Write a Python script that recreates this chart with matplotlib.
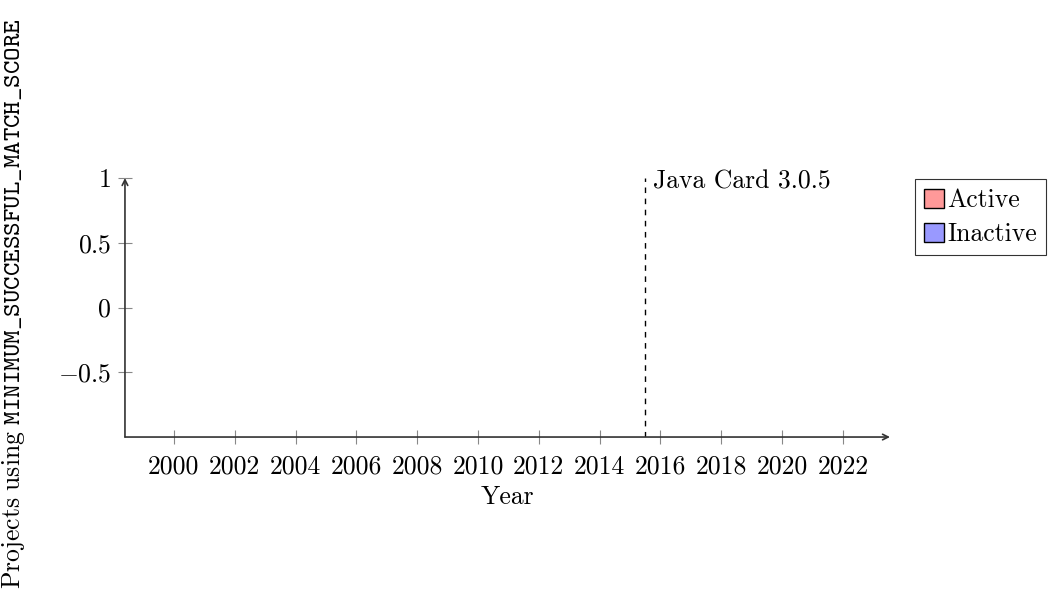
import matplotlib.pyplot as plt
from matplotlib.patches import Patch

plt.rcParams["mathtext.fontset"] = "cm"
plt.rcParams["font.family"] = ["cmr10", "DejaVu Sans"]
plt.rcParams["axes.formatter.use_mathtext"] = True

# data (the chart has no bars, only the release marker)
years = []
active = []
inactive = []
x_ticks = [2000, 2002, 2004, 2006, 2008, 2010, 2012, 2014, 2016, 2018, 2020, 2022]
y_ticks = [1, 0.5, 0, -0.5]
y_tick_labels = ["$1$", "$0.5$", "$0$", "$-0.5$"]
release_year = 2015.5
release_label = "Java Card 3.0.5"
series_names = ["Active", "Inactive"]
series_colors = ["#ff9999", "#9999ff"]

fs = 18.5

fig = plt.figure(figsize=(10.51, 6.08), dpi=100)
ax = fig.add_axes([0.1189, 0.2812, 0.7279, 0.4260])

ax.bar(years, active, color=series_colors[0], edgecolor="black")
ax.bar(years, inactive, bottom=active, color=series_colors[1], edgecolor="black")

ax.set_xlim(1998.39, 2023.55)
ax.set_ylim(-1, 1)

ax.axvline(release_year, color="black", linestyle=(0, (4, 4)), linewidth=1)
ax.text(release_year + 0.25, 0.97, release_label, fontsize=fs, va="center", ha="left")

for s in ax.spines.values():
    s.set_visible(False)
ax.annotate("", xy=(1, 0), xytext=(0, 0), xycoords="axes fraction",
            arrowprops=dict(arrowstyle="->", color="#333333", lw=1.2, shrinkA=0, shrinkB=0))
ax.annotate("", xy=(0, 1), xytext=(0, 0), xycoords="axes fraction",
            arrowprops=dict(arrowstyle="->", color="#333333", lw=1.2, shrinkA=0, shrinkB=0))

ax.set_xticks(x_ticks)
ax.set_xticklabels([str(v) for v in x_ticks], fontsize=fs)
ax.set_yticks(y_ticks)
ax.set_yticklabels(y_tick_labels, fontsize=fs)
ax.tick_params(direction="inout", length=10, width=0.8, color="#888888")
ax.tick_params(axis="x", pad=8)
ax.tick_params(axis="y", pad=5)

ax.set_xlabel("Year", fontsize=fs, labelpad=5)
fig.text(0.013, 0.5,
         r"$\mathrm{Projects\ using\ }\mathtt{MINIMUM\_SUCCESSFUL\_MATCH\_SCORE}$",
         rotation=90, va="center", ha="center", fontsize=fs)

handles = [Patch(facecolor=c, edgecolor="black", label=n) for n, c in zip(series_names, series_colors)]
leg = fig.legend(handles=handles, loc="upper left", bbox_to_anchor=(0.871, 0.705),
                 fontsize=fs, frameon=True, fancybox=False, handlelength=0.75,
                 handleheight=0.75, handletextpad=0.15, borderpad=0.35, labelspacing=0.4,
                 borderaxespad=0)
leg.get_frame().set_edgecolor("black")
leg.get_frame().set_linewidth(0.8)

fig.savefig("out.png", dpi=100)
